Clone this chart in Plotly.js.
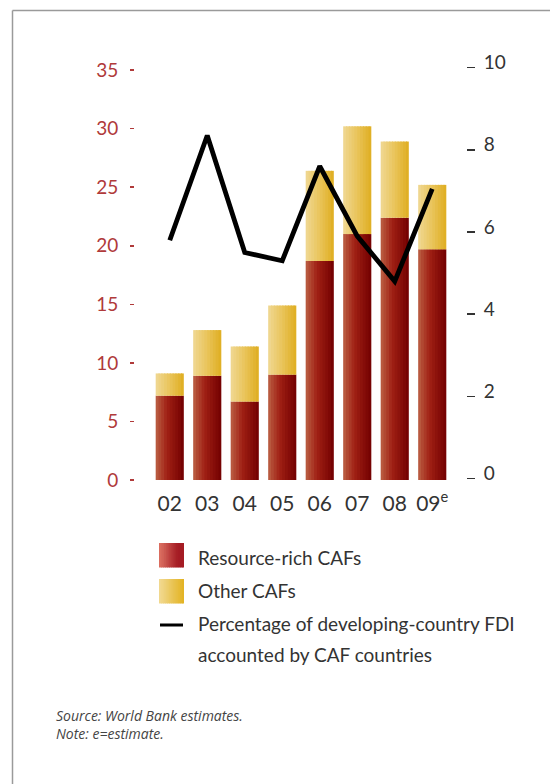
<!DOCTYPE html>
<html><head><meta charset="utf-8">
<script src="https://cdn.plot.ly/plotly-3.0.1.min.js"></script>
<style>html,body{margin:0;padding:0;background:#fff}</style>
</head><body><div id="chart" style="width:550px;height:784px"></div>
<script>
// ---- data ----
const years = ['02','03','04','05','06','07','08','09<sup>e</sup>'];
const resourceRich = [7.2, 8.9, 6.7, 9.0, 18.7, 21.0, 22.4, 19.7];
const otherCAFs = [1.9, 3.9, 4.7, 5.9, 7.7, 9.2, 6.5, 5.5];
const fdiShare = [5.8, 8.35, 5.5, 5.3, 7.6, 5.9, 4.8, 7.05];
const leftTicks = [0, 5, 10, 15, 20, 25, 30, 35];
const rightTicks = [0, 2, 4, 6, 8, 10];
const legendLabels = ['Resource-rich CAFs', 'Other CAFs', 'Percentage of developing-country FDI', 'accounted by CAF countries'];
const notes = ['Source: World Bank estimates.', 'Note: e=estimate.'];

// ---- helpers ----
const W = 550, H = 784;
const px = x => x / W, py = y => 1 - y / H;
const idx = years.map((_, i) => i);
const lerp = (a, b, t) => a.map((v, k) => Math.round(v + (b[k] - v) * t));
const rgb = c => 'rgb(' + c.join(',') + ')';
function redBar(t) {
  const L = [184, 88, 62], M = [160, 32, 20], R = [118, 2, 2];
  return rgb(t < 0.4 ? lerp(L, M, t / 0.4) : lerp(M, R, (t - 0.4) / 0.6));
}
function yellowBar(t) {
  const L = [239, 214, 142], M = [233, 196, 90], R = [224, 176, 38];
  return rgb(t < 0.5 ? lerp(L, M, t / 0.5) : lerp(M, R, (t - 0.5) / 0.5));
}
function redLeg(t) { return rgb(lerp([218, 108, 94], [165, 28, 36], Math.min(1, t * 1.3))); }
function yellowLeg(t) { return rgb(lerp([241, 216, 142], [227, 180, 37], t)); }

const N = 10, BW = 0.75, SW = BW / N;
const traces = [];
function addStripes(vals, base, colorFn, name) {
  for (let i = 0; i < N; i++) {
    traces.push({
      type: 'bar', x: idx, y: vals, base: base, name: name,
      offset: -BW / 2 + i * SW, width: i === N - 1 ? SW : SW * 1.4,
      marker: { color: colorFn(i / (N - 1)), line: { width: 0 } },
      showlegend: false, hoverinfo: 'skip'
    });
  }
}
addStripes(resourceRich, idx.map(() => 0), redBar, 'Resource-rich CAFs');
addStripes(otherCAFs, resourceRich, yellowBar, 'Other CAFs');
traces.push({
  type: 'scatter', mode: 'lines', x: idx, y: fdiShare, yaxis: 'y2',
  line: { color: '#000', width: 4.8 }, showlegend: false,
  name: 'Percentage of developing-country FDI accounted by CAF countries'
});

// ---- legend swatches, frame ----
const shapes = [];
shapes.push({ type: 'line', xref: 'paper', yref: 'paper', x0: px(12.5), x1: px(551), y0: py(10.5), y1: py(10.5), line: { color: '#9a9a9a', width: 1.5 } });
shapes.push({ type: 'line', xref: 'paper', yref: 'paper', x0: px(12.5), x1: px(12.5), y0: py(10.5), y1: py(785), line: { color: '#9a9a9a', width: 1.5 } });
function swatch(x0, y0, w, h, fn) {
  const n = 12, s = w / n;
  for (let i = 0; i < n; i++) {
    shapes.push({ type: 'rect', xref: 'paper', yref: 'paper', x0: px(x0 + i * s), x1: px(x0 + (i + 1) * s + (i < n - 1 ? 0.6 : 0)), y0: py(y0 + h), y1: py(y0), fillcolor: fn(i / (n - 1)), line: { width: 0 } });
  }
}
swatch(159, 543, 25, 24.5, redLeg);
swatch(159, 579, 25, 24.5, yellowLeg);
shapes.push({ type: 'line', xref: 'paper', yref: 'paper', x0: px(160), x1: px(183), y0: py(625), y1: py(625), line: { color: '#000', width: 3 } });

const textFont = { family: 'Lato, "Open Sans", sans-serif', size: 19, color: '#333' };
const annotations = [];
const legY = [557, 590, 623, 654];
legendLabels.forEach((t, i) => annotations.push({ text: t, xref: 'paper', yref: 'paper', x: px(196), y: py(legY[i]), xanchor: 'left', yanchor: 'middle', showarrow: false, font: textFont }));
const noteY = [715, 733];
notes.forEach((t, i) => annotations.push({ text: '<i>' + t + '</i>', xref: 'paper', yref: 'paper', x: px(54), y: py(noteY[i]), xanchor: 'left', yanchor: 'middle', showarrow: false, font: { family: '"Open Sans", sans-serif', size: 14, color: '#444' } }));

const layout = {
  width: W, height: H, margin: { l: 0, r: 0, t: 0, b: 0 },
  paper_bgcolor: '#fff', plot_bgcolor: 'rgba(0,0,0,0)',
  showlegend: false, barmode: 'overlay',
  xaxis: {
    domain: [px(151), px(451)], range: [-0.5, 7.5], tickvals: idx, ticktext: years,
    ticks: '', showline: false, showgrid: false, zeroline: false, fixedrange: true,
    tickfont: { family: 'Lato, sans-serif', size: 21, color: '#333' }, ticklabelstandoff: 9
  },
  yaxis: {
    domain: [py(480), py(66)], range: [0, 35.35], anchor: 'free', position: px(134), side: 'left',
    tickvals: leftTicks, ticks: 'outside', ticklen: 4, tickwidth: 1.5, tickcolor: '#b03a3a',
    showgrid: false, zeroline: false, showline: false, fixedrange: true,
    tickfont: { family: 'Lato, sans-serif', size: 19, color: '#b03a3a' }, ticklabelstandoff: 8
  },
  yaxis2: {
    overlaying: 'y', anchor: 'free', position: px(466), side: 'right', range: [-0.036, 10.04],
    tickvals: rightTicks, ticks: 'outside', ticklen: 8, tickwidth: 1.5, tickcolor: '#333',
    showgrid: false, zeroline: false, showline: false, fixedrange: true,
    tickfont: { family: 'Lato, sans-serif', size: 19, color: '#333' }, ticklabelshift: -5, ticklabelstandoff: 5
  },
  shapes: shapes, annotations: annotations
};
Plotly.newPlot('chart', traces, layout, { displayModeBar: false, staticPlot: true });
</script></body></html>
